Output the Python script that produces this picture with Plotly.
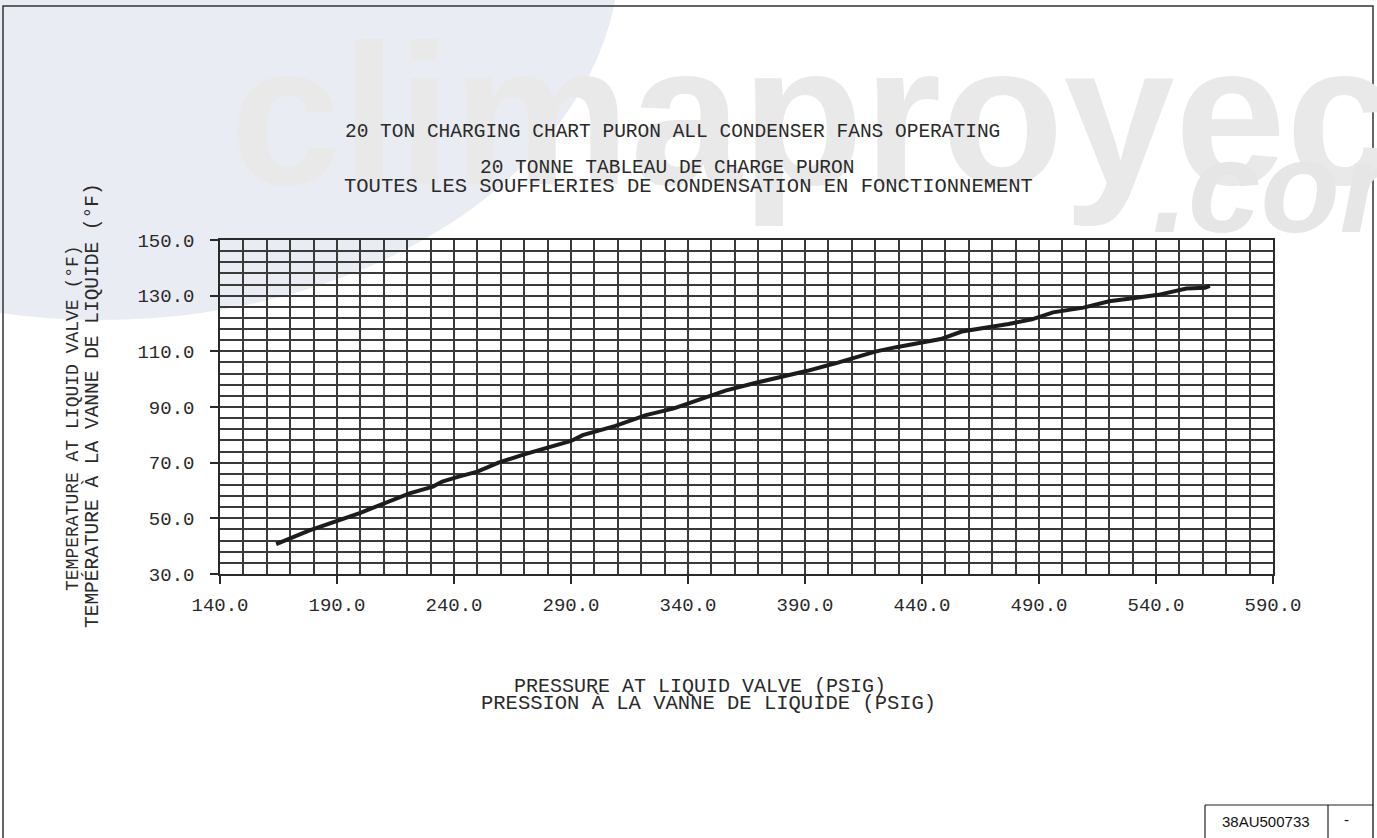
import plotly.graph_objects as go

# charging curve (psig, deg F)
pressure = [164, 178, 200, 210, 221, 231, 235, 242, 250, 259, 270, 290, 295, 309,
            322, 334, 349, 356, 369, 382, 391, 403, 409, 420, 429, 439, 448, 457,
            466, 477, 487, 496, 509, 520, 530, 541, 553, 561, 563]
temperature = [40.7, 45.6, 52.0, 55.2, 59.0, 61.4, 63.2, 65.0, 66.8, 70.0, 73.0, 77.8,
               79.9, 83.2, 87.1, 89.5, 94.1, 95.9, 98.7, 101.1, 103.0, 105.7, 107.1,
               109.9, 111.5, 113.1, 114.4, 117.1, 118.3, 119.8, 121.5, 124.0, 125.7,
               128.0, 129.1, 130.3, 132.6, 132.8, 133.5]

x_range = [140, 590]
y_range = [30, 150]

title_lines = ["20 TON CHARGING CHART PURON ALL CONDENSER FANS OPERATING",
               "20 TONNE TABLEAU DE CHARGE PURON",
               "TOUTES LES SOUFFLERIES DE CONDENSATION EN FONCTIONNEMENT"]
x_title = ["PRESSURE AT LIQUID VALVE (PSIG)", "PRESSION À LA VANNE DE LIQUIDE (PSIG)"]
y_title = ["TEMPERATURE AT LIQUID VALVE (°F)", "TEMPÉRATURE À LA VANNE DE LIQUIDE (°F)"]
drawing_no = "38AU500733"

W, H = 1377, 838
L, R, T, B = 220, 1273, 240, 574      # plot area on the page, pixels
MONO = "Liberation Mono, DejaVu Sans Mono, monospace"
INK = "#2a2a2a"


def pxx(x):                          # page pixel -> paper
    return (x - L) / (R - L)


def pxy(y):
    return (B - y) / (B - T)


fig = go.Figure()
fig.add_trace(go.Scatter(x=pressure, y=temperature, mode="lines",
                         line=dict(color="#1c1c1c", width=4), hoverinfo="skip"))

grid = dict(showgrid=True, gridcolor="#3a3a3a", gridwidth=1.5)
fig.update_xaxes(range=x_range, tick0=140, dtick=50, tickformat=".1f",
                 ticks="outside", ticklen=8, tickwidth=1.5, tickcolor=INK,
                 showline=True, mirror=True, linecolor=INK, linewidth=1.5,
                 zeroline=False, ticklabelstandoff=4,
                 tickfont=dict(family=MONO, size=19, color=INK),
                 minor=dict(tick0=140, dtick=10, **grid), **grid)
fig.update_yaxes(range=y_range, tick0=30, dtick=20, tickformat=".1f",
                 ticks="outside", ticklen=8, tickwidth=1.5, tickcolor=INK,
                 showline=True, mirror=True, linecolor=INK, linewidth=1.5,
                 zeroline=False, ticklabelstandoff=12,
                 tickfont=dict(family=MONO, size=19, color=INK),
                 minor=dict(tick0=30, dtick=4, **grid), **grid)

ann = []
# faint site watermark behind the heading
ann.append(dict(text="<b>climaproyectos</b>", x=pxx(228), y=pxy(228), xanchor="left",
                yanchor="bottom", font=dict(family="Liberation Sans", size=200, color="#e9e9e9")))
ann.append(dict(text="<b><i>.com</i></b>", x=pxx(1150), y=pxy(262), xanchor="left",
                yanchor="bottom", font=dict(family="Liberation Sans", size=130, color="#e6e6e6")))

for txt, cx, cy, sz in zip(title_lines, [672, 667, 688], [132, 168, 186], [19.5, 19.5, 20.5]):
    ann.append(dict(text=txt, x=pxx(cx), y=pxy(cy), font=dict(family=MONO, size=sz, color=INK)))
for txt, cx, cy, sz in zip(x_title, [700, 708], [686, 703], [20, 20.5]):
    ann.append(dict(text=txt, x=pxx(cx), y=pxy(cy), font=dict(family=MONO, size=sz, color=INK)))
for txt, cx, cy, sz in zip(y_title, [73, 92], [418, 406], [18, 19.5]):
    ann.append(dict(text=txt, x=pxx(cx), y=pxy(cy), textangle=-90,
                    font=dict(family=MONO, size=sz, color=INK)))
ann.append(dict(text=drawing_no, x=pxx(1266), y=pxy(821),
                font=dict(family="Liberation Sans, Arial", size=15, color="#111")))
ann.append(dict(text="-", x=pxx(1346), y=pxy(819),
                font=dict(family="Liberation Sans, Arial", size=15, color="#111")))
for a in ann:
    a.update(xref="paper", yref="paper", showarrow=False)
    a.setdefault("xanchor", "center")
    a.setdefault("yanchor", "middle")

shapes = [
    # lavender swoosh of the watermark
    dict(type="circle", x0=pxx(-420), x1=pxx(620), y0=pxy(-420), y1=pxy(320),
         fillcolor="#eaecf4", line=dict(width=0), layer="below"),
    # page frame and title block
    dict(type="rect", x0=pxx(3), x1=pxx(1373), y0=pxy(6), y1=pxy(850),
         line=dict(color="#333", width=1.5)),
    dict(type="line", x0=pxx(1205), x1=pxx(1373), y0=pxy(805), y1=pxy(805),
         line=dict(color="#222", width=1.2)),
    dict(type="line", x0=pxx(1205), x1=pxx(1205), y0=pxy(805), y1=pxy(845),
         line=dict(color="#222", width=1.2)),
    dict(type="line", x0=pxx(1328), x1=pxx(1328), y0=pxy(805), y1=pxy(845),
         line=dict(color="#222", width=1.2)),
]
for s in shapes:
    s.update(xref="paper", yref="paper")

fig.update_layout(width=W, height=H, margin=dict(l=L, r=W - R, t=T, b=H - B),
                  paper_bgcolor="white", plot_bgcolor="rgba(0,0,0,0)",
                  showlegend=False, annotations=ann, shapes=shapes)

# page body has a default 8px margin; drop it so the figure sits at the corner
fig.write_html("out.html", config={"displayModeBar": False},
               post_script="document.body.style.margin='0';")
